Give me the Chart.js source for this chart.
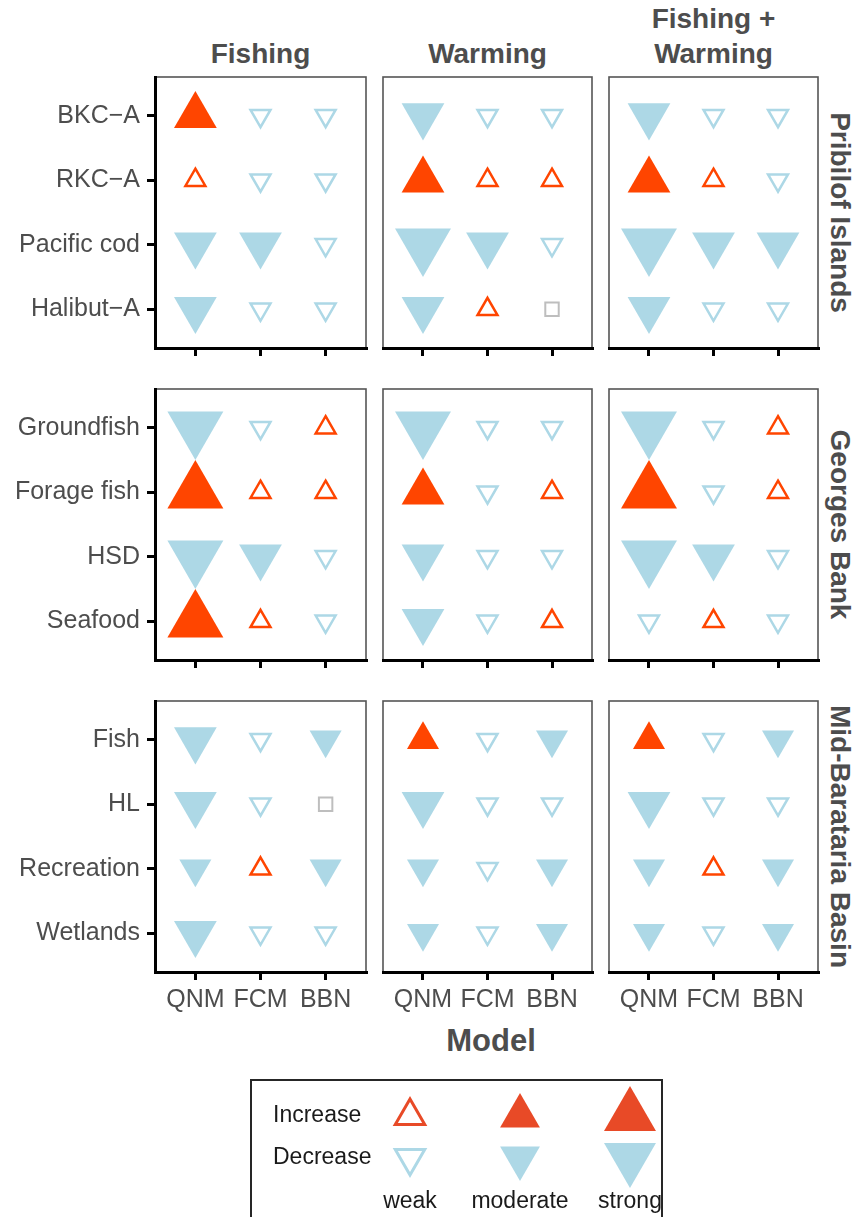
<!DOCTYPE html>
<html lang="en">
<head>
<meta charset="utf-8">
<title>Model responses by region and scenario</title>
<script src="https://cdn.jsdelivr.net/npm/chart.js@4.4.1/dist/chart.umd.min.js"></script>
<style>
  body { margin: 0; background: #fff; font-family: "Liberation Sans", Arial, sans-serif; }
  .page { position: relative; width: 857px; height: 1217px; overflow: hidden; }
  .page canvas { position: absolute; }
  .strip-top { position: absolute; width: 240px; text-align: center; font-weight: bold; font-size: 28px; line-height: 35px; color: #4d4d4d; white-space: pre; }
  .strip-right { position: absolute; width: 300px; height: 35px; text-align: center; font-weight: bold; font-size: 28px; line-height: 35px; color: #4d4d4d; transform: rotate(90deg); white-space: nowrap; }
  .axis-title { position: absolute; width: 200px; text-align: center; font-weight: bold; font-size: 31px; line-height: 36px; color: #4d4d4d; }
  .legend-box { position: absolute; left: 250px; top: 1079px; width: 413px; height: 160px; border: 2px solid #262626; box-sizing: border-box; }
</style>
</head>
<body>
<div class="page" id="page">
  <div class="legend-box"></div>
</div>
<script>
const scenarios = ["Fishing", "Warming", "Fishing +\nWarming"];
const regions = ["Pribilof Islands", "Georges Bank", "Mid-Barataria Basin"];
const models = ["QNM", "FCM", "BBN"];

const pribilofGroups = ["BKC\u2212A", "RKC\u2212A", "Pacific cod", "Halibut\u2212A"];
const georgesGroups = ["Groundfish", "Forage fish", "HSD", "Seafood"];
const baratariaGroups = ["Fish", "HL", "Recreation", "Wetlands"];

// one row per group, one value per model (QNM, FCM, BBN)
// sign: + increase, - decrease; size: 1 weak (open), 2-4 filled, growing; 0 no change
const pribilofFishing = [[3, -1, -1], [1, -1, -1], [-3, -3, -1], [-3, -1, -1]];
const pribilofWarming = [[-3, -1, -1], [3, 1, 1], [-4, -3, -1], [-3, 1, 0]];
const pribilofBoth = [[-3, -1, -1], [3, 1, -1], [-4, -3, -3], [-3, -1, -1]];

const georgesFishing = [[-4, -1, 1], [4, 1, 1], [-4, -3, -1], [4, 1, -1]];
const georgesWarming = [[-4, -1, -1], [3, -1, 1], [-3, -1, -1], [-3, -1, 1]];
const georgesBoth = [[-4, -1, 1], [4, -1, 1], [-4, -3, -1], [-1, 1, -1]];

const baratariaFishing = [[-3, -1, -2], [-3, -1, 0], [-2, 1, -2], [-3, -1, -1]];
const baratariaWarming = [[2, -1, -2], [-3, -1, -1], [-2, -1, -2], [-2, -1, -2]];
const baratariaBoth = [[2, -1, -2], [-3, -1, -1], [-2, 1, -2], [-2, -1, -2]];

const legendDirections = ["Increase", "Decrease"];
const legendStrengths = ["weak", "moderate", "strong"];

const regionGroups = [pribilofGroups, georgesGroups, baratariaGroups];
const panelValues = [
  [pribilofFishing, pribilofWarming, pribilofBoth],
  [georgesFishing, georgesWarming, georgesBoth],
  [baratariaFishing, baratariaWarming, baratariaBoth],
];

// styles
const increaseColor = "#FF4500";
const decreaseColor = "#ADD8E6";
const neutralColor = "#BEBEBE";
const markRadius = [9.5, 11.5, 18.5, 24.7, 32.3];
const legendIncrease = "#E84A27";
const legendRadius = [17, 23, 30];
const textGrey = "#4d4d4d";

// panel areas on the page
const colLeft = [155, 383, 609];
const colRight = [366, 592, 818];
const rowTop = [77, 389, 701];
const rowBottom = [348, 660, 972];

Chart.defaults.font.family = "'Liberation Sans', Arial, sans-serif";

const page = document.getElementById("page");

const panelFrame = {
  id: "panelFrame",
  beforeDraw(chart) {
    const { ctx, chartArea: a } = chart;
    ctx.save();
    ctx.strokeStyle = "#555";
    ctx.lineWidth = 1.6;
    ctx.strokeRect(a.left, a.top, a.right - a.left, a.bottom - a.top);
    ctx.restore();
  },
};

// keep the chart area where the layout puts it: no room for overhanging labels
function fixAxis(axis, size) {
  if (axis.isHorizontal()) axis.height = size;
  else axis.width = size;
  axis.paddingLeft = 0;
  axis.paddingRight = 0;
  axis.paddingTop = 0;
  axis.paddingBottom = 0;
}

function addCanvas(left, top, width, height) {
  const canvas = document.createElement("canvas");
  canvas.width = width;
  canvas.height = height;
  canvas.style.left = `${left}px`;
  canvas.style.top = `${top}px`;
  canvas.style.width = `${width}px`;
  canvas.style.height = `${height}px`;
  page.appendChild(canvas);
  return canvas;
}

function markColor(v) {
  if (v === 0) return neutralColor;
  return v > 0 ? increaseColor : decreaseColor;
}

function makePanel(r, c) {
  const groups = regionGroups[r];
  const firstCol = c === 0;
  const lastRow = r === regions.length - 1;
  const canvasLeft = firstCol ? 0 : colLeft[c] - 4;
  const canvasTop = rowTop[r] - 4;
  const xAxisH = lastRow ? 45 : 12;
  const canvas = addCanvas(
    canvasLeft,
    canvasTop,
    colRight[c] + 4 - canvasLeft,
    rowBottom[r] - rowTop[r] + 4 + xAxisH
  );

  const data = [];
  panelValues[r][c].forEach((row, g) => {
    row.forEach((v, m) => data.push({ x: m, y: g, v }));
  });

  const tickFont = { size: 25 };
  new Chart(canvas, {
    type: "scatter",
    data: {
      datasets: [
        {
          data,
          clip: false,
          pointStyle: (ctx) => (ctx.raw.v === 0 ? "rect" : "triangle"),
          pointRotation: (ctx) => (ctx.raw.v < 0 ? 180 : 0),
          pointRadius: (ctx) => markRadius[Math.abs(ctx.raw.v)],
          pointBackgroundColor: (ctx) =>
            Math.abs(ctx.raw.v) >= 2 ? markColor(ctx.raw.v) : "rgba(0,0,0,0)",
          pointBorderColor: (ctx) => markColor(ctx.raw.v),
          pointBorderWidth: (ctx) => {
            const mag = Math.abs(ctx.raw.v);
            if (mag === 0) return 2;
            return mag === 1 ? 2.5 : 0;
          },
        },
      ],
    },
    options: {
      responsive: false,
      animation: false,
      events: [],
      layout: {
        autoPadding: false,
        padding: { left: firstCol ? 0 : 4, right: 4, top: 4, bottom: 0 },
      },
      plugins: { legend: { display: false }, tooltip: { enabled: false } },
      scales: {
        x: {
          type: "linear",
          min: -0.62,
          max: models.length - 1 + 0.62,
          afterBuildTicks: (axis) => {
            axis.ticks = models.map((_, i) => ({ value: i }));
          },
          afterFit: (axis) => fixAxis(axis, xAxisH),
          ticks: {
            display: lastRow,
            autoSkip: false,
            maxRotation: 0,
            padding: 5,
            color: textGrey,
            font: tickFont,
            callback: (v) => models[v],
          },
          grid: { drawOnChartArea: false, tickLength: 8, color: "#000", lineWidth: 3 },
          border: { color: "#000", width: 3 },
        },
        y: {
          type: "linear",
          display: firstCol,
          reverse: true,
          min: -0.6,
          max: groups.length - 1 + 0.6,
          afterBuildTicks: (axis) => {
            axis.ticks = groups.map((_, i) => ({ value: i }));
          },
          afterFit: (axis) => fixAxis(axis, firstCol ? colLeft[0] : 0),
          ticks: {
            autoSkip: false,
            padding: 7,
            color: textGrey,
            font: tickFont,
            callback: (v) => groups[v],
          },
          grid: { drawOnChartArea: false, tickLength: 8, color: "#000", lineWidth: 3 },
          border: { color: "#000", width: 3 },
        },
      },
    },
    plugins: [panelFrame],
  });
}

function makeLegend() {
  const canvas = addCanvas(253, 1082, 412, 135);
  const data = [];
  legendDirections.forEach((_, d) => {
    legendStrengths.forEach((_, s) => data.push({ x: s, y: d }));
  });
  const color = (ctx) => (ctx.raw.y === 0 ? legendIncrease : decreaseColor);
  new Chart(canvas, {
    type: "scatter",
    data: {
      datasets: [
        {
          data,
          clip: false,
          pointStyle: "triangle",
          pointRotation: (ctx) => (ctx.raw.y === 0 ? 0 : 180),
          pointRadius: (ctx) => legendRadius[ctx.raw.x],
          pointBackgroundColor: (ctx) => (ctx.raw.x === 0 ? "rgba(0,0,0,0)" : color(ctx)),
          pointBorderColor: color,
          pointBorderWidth: (ctx) => (ctx.raw.x === 0 ? 3 : 0),
        },
      ],
    },
    options: {
      responsive: false,
      animation: false,
      events: [],
      layout: { autoPadding: false, padding: { left: 20, right: 8, top: 0, bottom: 0 } },
      plugins: { legend: { display: false }, tooltip: { enabled: false } },
      scales: {
        x: {
          type: "linear",
          min: -0.2455,
          max: 2.2455,
          afterBuildTicks: (axis) => {
            axis.ticks = legendStrengths.map((_, i) => ({ value: i }));
          },
          afterFit: (axis) => fixAxis(axis, 35),
          ticks: {
            autoSkip: false,
            maxRotation: 0,
            padding: 6,
            color: "#1a1a1a",
            font: { size: 23 },
            callback: (v) => legendStrengths[v],
          },
          grid: { display: false, drawTicks: false },
          border: { display: false },
        },
        y: {
          type: "linear",
          reverse: true,
          min: -0.8095,
          max: 1.5714,
          afterBuildTicks: (axis) => {
            axis.ticks = legendDirections.map((_, i) => ({ value: i }));
          },
          afterFit: (axis) => fixAxis(axis, 110),
          ticks: {
            crossAlign: "far",
            padding: 0,
            color: "#1a1a1a",
            font: { size: 23 },
            callback: (v) => legendDirections[v],
          },
          grid: { display: false, drawTicks: false },
          border: { display: false },
        },
      },
    },
  });
}

function addText(className, text, left, top) {
  const el = document.createElement("div");
  el.className = className;
  el.textContent = text;
  el.style.left = `${left}px`;
  el.style.top = `${top}px`;
  page.appendChild(el);
}

scenarios.forEach((name, c) => {
  const center = (colLeft[c] + colRight[c]) / 2;
  const lines = name.split("\n").length;
  addText("strip-top", name, center - 120, lines > 1 ? 1 : 36);
});

regions.forEach((name, r) => {
  const center = (rowTop[r] + rowBottom[r]) / 2;
  addText("strip-right", name, 840 - 150, center - 17.5);
});

addText("axis-title", "Model", 491 - 100, 1023);

regions.forEach((_, r) => scenarios.forEach((_, c) => makePanel(r, c)));
makeLegend();
</script>
</body>
</html>
